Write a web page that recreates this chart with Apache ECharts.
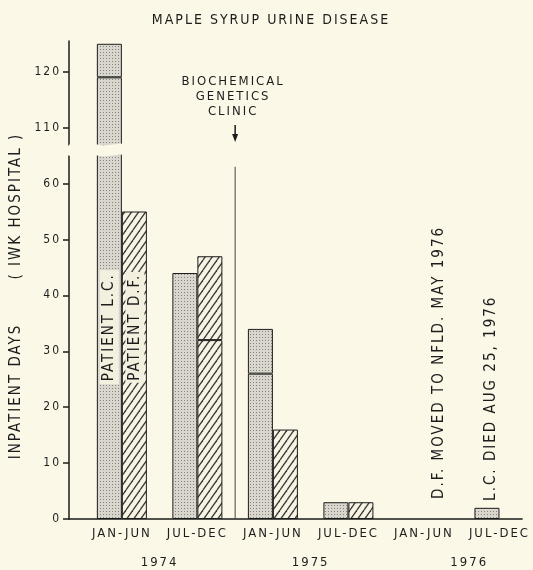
<!DOCTYPE html>
<html lang="en">
<head>
<meta charset="utf-8">
<title>Maple Syrup Urine Disease</title>
<script src="https://cdn.jsdelivr.net/npm/echarts@6.0.0/dist/echarts.min.js"></script>
<style>
  html, body { margin: 0; padding: 0; background: #fbf8e7; }
  #main { width: 533px; height: 570px; }
</style>
</head>
<body>
<div id="main"></div>
<script type="text/javascript">
  // x axis: half years, positions 0..5
  let periods = ['JAN-JUN', 'JUL-DEC', 'JAN-JUN', 'JUL-DEC', 'JAN-JUN', 'JUL-DEC'];
  let periodPos = [0, 1, 2, 3, 4, 5];
  let years = ['1974', '1975', '1976'];
  let yearPos = [0.5, 2.5, 4.6];
  let yTicks = [0, 10, 20, 30, 40, 50, 60, 110, 120];

  // inpatient days, patient L.C. (stippled), split at the inner line
  let lcLower = [119, 44, 26, 3, null, 2];
  let lcUpper = [6, null, 8, null, null, null];
  // patient D.F. (hatched)
  let dfLower = [55, 32, 16, 3, null, null];
  let dfUpper = [null, 15, null, null, null, null];

  let clinicAt = 1.5;   // biochemical genetics clinic opened here
  let clinicTop = 63;

  const BG = '#fbf8e7';
  const INK = '#1c1c1c';
  const FONT = "'DejaVu Sans Condensed', 'Liberation Sans Narrow', sans-serif";

  // lettering in the scan is widely spaced, ECharts has no option for that
  const proto = CanvasRenderingContext2D.prototype;
  const origFill = proto.fillText, origMeasure = proto.measureText;
  proto.fillText = function () { this.letterSpacing = '2px'; return origFill.apply(this, arguments); };
  proto.measureText = function () { this.letterSpacing = '2px'; return origMeasure.apply(this, arguments); };

  function stipple() {
    let c = document.createElement('canvas');
    c.width = 3; c.height = 3;
    let ctx = c.getContext('2d');
    ctx.fillStyle = '#d9d7cd';
    ctx.fillRect(0, 0, 3, 3);
    ctx.fillStyle = '#85837c';
    ctx.fillRect(1, 1, 1, 1);
    return c;
  }

  function hatch() {
    let w = 7, h = 10;
    let c = document.createElement('canvas');
    c.width = w; c.height = h;
    let ctx = c.getContext('2d');
    ctx.fillStyle = '#f7f4e3';
    ctx.fillRect(0, 0, w, h);
    ctx.strokeStyle = '#3a3a3a';
    ctx.lineWidth = 1.3;
    for (let k = -1; k <= 1; k++) {
      ctx.beginPath();
      ctx.moveTo(k * w, h);
      ctx.lineTo(k * w + w, 0);
      ctx.stroke();
    }
    return c;
  }

  // value first, so the stack is on the y values (value axes stack the first value dimension)
  function pairs(arr) {
    return arr.map((v, i) => [v, periodPos[i]]);
  }

  let stippleFill = { image: stipple(), repeat: 'repeat' };
  let hatchFill = { image: hatch(), repeat: 'repeat' };

  function barSeries(name, stack, data, fill) {
    return {
      name: name,
      type: 'bar',
      stack: stack,
      data: pairs(data),
      encode: { x: 1, y: 0 },
      barWidth: 25,
      barGap: '0%',
      itemStyle: { color: fill, borderColor: INK, borderWidth: 1 },
      silent: true
    };
  }

  let chart = echarts.init(document.getElementById('main'));

  let series = [
    barSeries('L.C.', 'lc', lcLower, stippleFill),
    barSeries('L.C.', 'lc', lcUpper, stippleFill),
    barSeries('D.F.', 'df', dfLower, hatchFill),
    barSeries('D.F.', 'df', dfUpper, hatchFill),
    {
      name: 'clinic',
      type: 'line',
      data: [[clinicAt, 0], [clinicAt, clinicTop]],
      symbol: 'none',
      silent: true,
      lineStyle: { color: '#444', width: 1 }
    }
  ];

  let option = {
    backgroundColor: BG,
    animation: false,
    textStyle: { fontFamily: FONT, color: INK },
    grid: { left: 69, right: 8, top: 41, bottom: 51 },
    xAxis: [
      {
        type: 'value', min: -0.7, max: 5.3,
        axisLine: { show: true, onZero: false, lineStyle: { color: INK, width: 1.5 } },
        axisTick: { show: false },
        splitLine: { show: false },
        axisLabel: {
          customValues: periodPos, margin: 7, fontSize: 13, color: INK, fontFamily: FONT,
          formatter: (v) => periods[Math.round(v)]
        }
      },
      {
        type: 'value', min: -0.7, max: 5.3, position: 'bottom', offset: 30,
        axisLine: { show: false },
        axisTick: { show: false },
        splitLine: { show: false },
        axisLabel: {
          customValues: yearPos, margin: 6, fontSize: 13, color: INK, fontFamily: FONT,
          formatter: (v) => years[yearPos.indexOf(v)]
        }
      }
    ],
    yAxis: {
      type: 'value', min: 0, max: 125.5,
      breaks: [{ start: 65, end: 107, gap: 2 }],
      breakArea: {
        show: true,
        itemStyle: { color: BG, borderColor: BG, borderWidth: 0, opacity: 1 },
        zigzagAmplitude: 1,
        expandOnClick: false
      },
      axisLine: { show: true, onZero: false, lineStyle: { color: INK, width: 1.5 } },
      axisTick: { show: true, length: 6, customValues: yTicks, lineStyle: { color: INK, width: 1.5 } },
      axisLabel: { customValues: yTicks, margin: 8, fontSize: 12, color: INK, fontFamily: FONT },
      splitLine: { show: false }
    },
    series: series
  };

  chart.setOption(option);

  // annotations, placed from data coordinates
  let p = (x, y) => chart.convertToPixel({ xAxisIndex: 0, yAxisIndex: 0 }, [x, y]);
  let textStyle = (txt, size, extra) => Object.assign({
    text: txt, fontSize: size, fontFamily: FONT, fill: INK, align: 'center', verticalAlign: 'middle'
  }, extra || {});

  let clinic = p(clinicAt, clinicTop);
  let dfNote = p(4.2, 28);
  let lcDied = p(4.89, 21.6);
  let patients = p(0, 34.3);

  chart.setOption({
    graphic: [
      { type: 'text', x: 271, y: 20, z: 100, style: textStyle('MAPLE SYRUP URINE DISEASE', 14) },
      { type: 'text', x: 16, y: 296, z: 100, rotation: Math.PI / 2,
        style: textStyle('INPATIENT DAYS       ( IWK HOSPITAL )', 15) },
      { type: 'text', x: clinic[0] - 2, y: 97, z: 100,
        style: textStyle('BIOCHEMICAL\nGENETICS\nCLINIC', 13, { lineHeight: 15 }) },
      { type: 'line', z: 100, shape: { x1: clinic[0], y1: 125, x2: clinic[0], y2: 136 },
        style: { stroke: INK, lineWidth: 1.5 } },
      { type: 'polygon', z: 100, shape: { points: [[clinic[0] - 3, 134], [clinic[0] + 3, 134], [clinic[0], 142]] },
        style: { fill: INK } },
      { type: 'text', x: patients[0] - 12.5, y: patients[1], z: 100, rotation: Math.PI / 2,
        style: textStyle('PATIENT L.C.', 15, { backgroundColor: '#f3f0df', padding: [1, 3] }) },
      { type: 'text', x: patients[0] + 13, y: patients[1], z: 100, rotation: Math.PI / 2,
        style: textStyle('PATIENT D.F.', 15, { backgroundColor: '#f3f0df', padding: [1, 2] }) },
      { type: 'text', x: dfNote[0], y: dfNote[1], z: 100, rotation: Math.PI / 2,
        style: textStyle('D.F. MOVED TO NFLD. MAY 1976', 15) },
      { type: 'text', x: lcDied[0], y: lcDied[1], z: 100, rotation: Math.PI / 2,
        style: textStyle('L.C. DIED AUG 25, 1976', 15) }
    ]
  });
</script>
</body>
</html>
